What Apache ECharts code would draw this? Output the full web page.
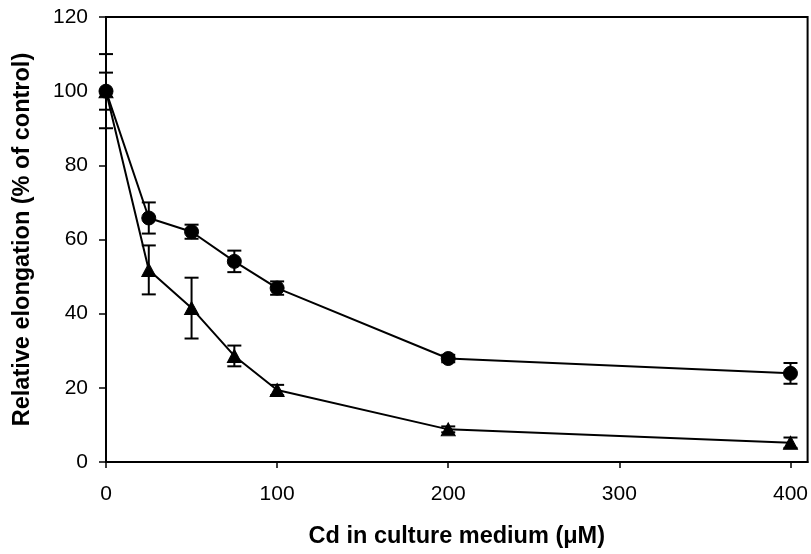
<!DOCTYPE html>
<html>
<head>
<meta charset="utf-8">
<script src="https://cdn.jsdelivr.net/npm/echarts@6/dist/echarts.min.js"></script>
<style>
html,body{margin:0;padding:0;background:#fff;}
#chart{width:811px;height:554px;}
</style>
</head>
<body>
<div id="chart"></div>
<script>
// Data
const cdConc = [0, 25, 50, 75, 100, 200, 400];
const circleMean = [100, 65.8, 62.1, 54.1, 46.9, 27.9, 23.9];
const circleErr  = [5, 4.2, 1.9, 2.9, 1.8, 1.0, 2.8];
const triMean    = [100, 51.8, 41.5, 28.6, 19.4, 8.8, 5.2];
const triErr     = [10, 6.6, 8.2, 2.8, 1.4, 0.8, 1.4];
const xTicks = [0, 100, 200, 300, 400];
const yTicks = [0, 20, 40, 60, 80, 100, 120];

const FONT = '"Liberation Sans", Arial, sans-serif';

function pairs(xs, ys) { return xs.map((x, i) => [x, ys[i]]); }
function errData(xs, m, e) { return xs.map((x, i) => [x, m[i] - e[i], m[i] + e[i]]); }

function errRender(params, api) {
  const x = api.value(0);
  const lo = api.coord([x, api.value(1)]);
  const hi = api.coord([x, api.value(2)]);
  const hw = 7;
  const st = { stroke: '#000', lineWidth: 2, fill: null };
  return {
    type: 'group',
    children: [
      { type: 'line', shape: { x1: lo[0], y1: lo[1], x2: hi[0], y2: hi[1] }, style: st },
      { type: 'line', shape: { x1: lo[0] - hw, y1: lo[1], x2: lo[0] + hw, y2: lo[1] }, style: st },
      { type: 'line', shape: { x1: hi[0] - hw, y1: hi[1], x2: hi[0] + hw, y2: hi[1] }, style: st }
    ]
  };
}

const chart = echarts.init(document.getElementById('chart'));
chart.setOption({
  animation: false,
  backgroundColor: '#fff',
  grid: { left: 106, right: 3, top: 17, bottom: 90, show: true, borderColor: '#000', borderWidth: 2, backgroundColor: 'transparent' },
  xAxis: {
    type: 'value', min: 0, max: 410, interval: 100,
    name: 'Cd in culture medium (μM)', nameLocation: 'middle', nameGap: 63,
    nameTextStyle: { fontFamily: FONT, fontSize: 23.5, fontWeight: 'bold', color: '#000' },
    axisLine: { show: true, lineStyle: { color: '#000', width: 2 } },
    axisTick: { show: true, length: 6, lineStyle: { color: '#000', width: 1.5 } },
    axisLabel: { fontFamily: FONT, fontSize: 21, color: '#000', margin: 22, showMaxLabel: false,
      formatter: v => xTicks.includes(v) ? String(v) : '' },
    splitLine: { show: false }
  },
  yAxis: {
    type: 'value', min: 0, max: 120, interval: 20,
    name: 'Relative elongation (% of control)', nameLocation: 'middle', nameGap: 71, nameRotate: 90,
    nameTextStyle: { fontFamily: FONT, fontSize: 23.5, fontWeight: 'bold', color: '#000' },
    axisLine: { show: true, lineStyle: { color: '#000', width: 2 } },
    axisTick: { show: true, length: 7, lineStyle: { color: '#000', width: 1.5 } },
    axisLabel: { fontFamily: FONT, fontSize: 21, color: '#000', margin: 18,
      formatter: v => yTicks.includes(v) ? String(v) : '' },
    splitLine: { show: false }
  },
  series: [
    { type: 'custom', name: 'circleErr', renderItem: errRender, data: errData(cdConc, circleMean, circleErr), z: 3 },
    { type: 'custom', name: 'triErr', renderItem: errRender, data: errData(cdConc, triMean, triErr), z: 3 },
    {
      type: 'line', name: 'circle', data: pairs(cdConc, circleMean),
      symbol: 'circle', symbolSize: 14,
      lineStyle: { color: '#000', width: 2 }, itemStyle: { color: '#000', borderColor: '#000' }, z: 4
    },
    {
      type: 'line', name: 'triangle', data: pairs(cdConc, triMean),
      symbol: 'triangle', symbolSize: [14, 13],
      lineStyle: { color: '#000', width: 2 }, itemStyle: { color: '#000', borderColor: '#000' }, z: 4
    }
  ]
});
</script>
</body>
</html>
